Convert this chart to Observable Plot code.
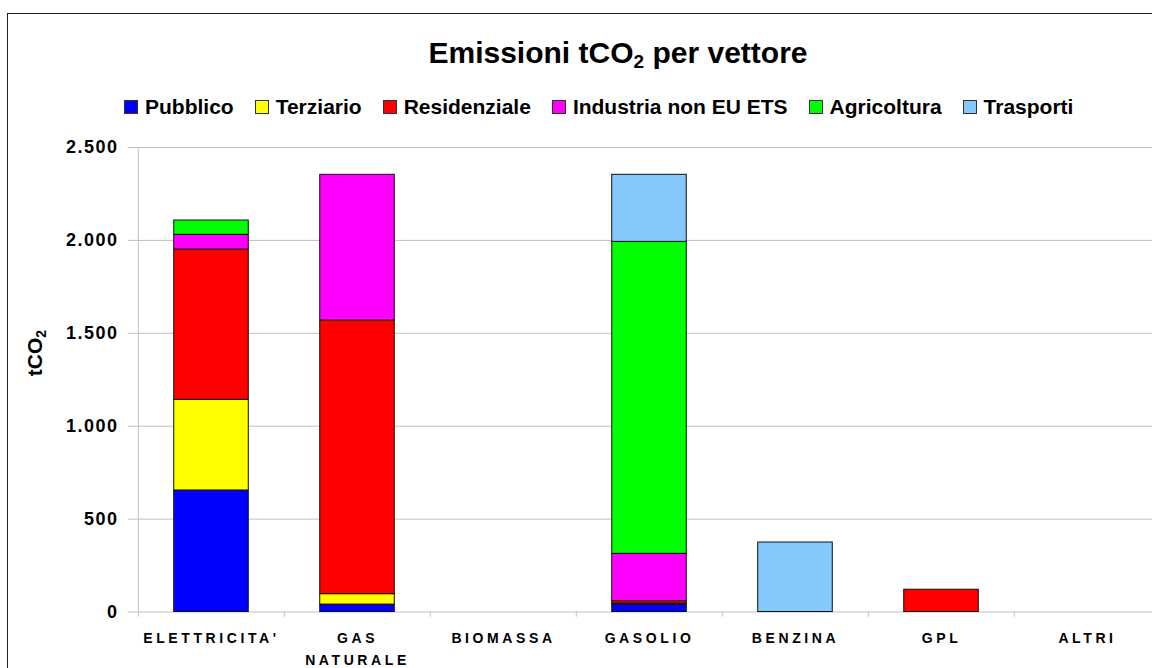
<!DOCTYPE html>
<html>
<head>
<meta charset="utf-8">
<script src="https://cdn.jsdelivr.net/npm/d3@7"></script>
<script src="https://cdn.jsdelivr.net/npm/@observablehq/plot@0.6"></script>
<style>
  html, body { margin: 0; padding: 0; background: #fff; }
  body { font-family: "Liberation Sans", Arial, sans-serif; }
  #wrap { position: relative; width: 1152px; height: 668px; overflow: hidden; }
  #frame { position: absolute; left: 7px; top: 13px; width: 1300px; height: 800px; border: 1.4px solid #222; box-sizing: border-box; }
  #title { position: absolute; left: 0; width: 1236px; top: 36px; text-align: center; font-weight: bold; font-size: 30px; color: #000; }
  #title sub { font-size: 19px; vertical-align: -5px; line-height: 0; }
  #legend { position: absolute; left: 124px; top: 95px; display: flex; align-items: center; font-weight: bold; font-size: 21px; color: #000; white-space: nowrap; }
  .item { display: flex; align-items: center; margin-right: 21px; }
  .sw { width: 12px; height: 12px; border: 1px solid #333; margin-right: 7px; }
  #ytitle { position: absolute; left: 35px; top: 353px; transform: translate(-50%, -50%) rotate(-90deg); font-weight: bold; font-size: 21px; white-space: nowrap; color: #000; }
  #ytitle sub { font-size: 14px; vertical-align: -4px; line-height: 0; }
  #chart { position: absolute; left: 0; top: 130px; width: 1170px; }
  #chart svg { max-width: none !important; }
  [aria-label="x-axis tick label"] text { letter-spacing: 3.6px; }
  [aria-label="y-axis tick label"] text { letter-spacing: 1.5px; }
</style>
</head>
<body>
<div id="wrap">
  <div id="frame"></div>
  <div id="title">Emissioni tCO<sub>2</sub> per vettore</div>
  <div id="legend"></div>
  <div id="ytitle">tCO<sub>2</sub></div>
  <div id="chart"></div>
</div>
<script>
// ---- Data ----
const categories = ["ELETTRICITA'", "GAS NATURALE", "BIOMASSA", "GASOLIO", "BENZINA", "GPL", "ALTRI"];
const tickLabels = ["ELETTRICITA'", "GAS\nNATURALE", "BIOMASSA", "GASOLIO", "BENZINA", "GPL", "ALTRI"];
const seriesNames = ["Pubblico", "Terziario", "Residenziale", "Industria non EU ETS", "Agricoltura", "Trasporti"];
const seriesColors = ["#0000ff", "#ffff00", "#ff0000", "#ff00ff", "#00ff00", "#85c9fc"];
const pubblico     = [654,   40, 0,   40,   0,   0, 0];
const terziario    = [488,   56, 0,    5,   0,   0, 0];
const residenziale = [809, 1473, 0,   13,   0, 120, 0];
const industria    = [ 79,  784, 0,  255,   0,   0, 0];
const agricoltura  = [ 77,    0, 0, 1679,   0,   0, 0];
const trasporti    = [  0,    0, 0,  361, 374,   0, 0];
const yTicks = [0, 500, 1000, 1500, 2000, 2500];

const seriesValues = [pubblico, terziario, residenziale, industria, agricoltura, trasporti];
const rows = [];
seriesNames.forEach((s, i) => {
  categories.forEach((c, j) => {
    const v = seriesValues[i][j];
    if (v > 0) rows.push({cat: c, series: s, value: v});
  });
});

// ---- Legend ----
const legend = document.getElementById("legend");
seriesNames.forEach((s, i) => {
  const it = document.createElement("div");
  it.className = "item";
  const sw = document.createElement("div");
  sw.className = "sw";
  sw.style.background = seriesColors[i];
  const tx = document.createElement("span");
  tx.textContent = s;
  it.appendChild(sw); it.appendChild(tx);
  legend.appendChild(it);
});

// ---- Chart ----
const width = 1170, height = 538;
const marginLeft = 136, marginRight = 9, marginTop = 17, marginBottom = 56.5;
const step = (width - marginLeft - marginRight) / categories.length;
const fmt = d3.formatLocale({decimal: ",", thousands: ".", grouping: [3], currency: ["", "€"]}).format(",");
const grid = "#c0c0c0";

const chart = Plot.plot({
  width, height, marginLeft, marginRight, marginTop, marginBottom,
  style: {fontFamily: '"Liberation Sans", Arial, sans-serif', background: "transparent", overflow: "visible", color: "#000", maxWidth: "none"},
  x: {type: "band", domain: categories, padding: 0},
  y: {domain: [0, 2500]},
  color: {domain: seriesNames, range: seriesColors},
  marks: [
    Plot.gridY(yTicks, {stroke: grid, strokeOpacity: 1, strokeWidth: 1}),
    Plot.ruleX([categories[0]], {dx: -step / 2, y1: 0, y2: 2500, stroke: grid, strokeWidth: 1}),
    Plot.ruleX(categories, {dx: -step / 2, y1: 0, y2: -28, stroke: grid, strokeWidth: 1}),
    Plot.axisY({ticks: yTicks, tickSize: 8, tickPadding: 10, stroke: grid, strokeOpacity: 1, fontSize: 18, fontWeight: "bold", tickFormat: fmt, label: null}),
    Plot.axisX({tickSize: 0, tickPadding: 16, fontSize: 14, fontWeight: "bold", lineHeight: 1.55, tickFormat: (d) => tickLabels[categories.indexOf(d)], label: null}),
    Plot.barY(rows, {x: "cat", y: "value", fill: "series", order: seriesNames, stroke: "#111", strokeWidth: 1, insetLeft: step * 0.244, insetRight: step * 0.244})
  ]
});
document.getElementById("chart").appendChild(chart);
</script>
</body>
</html>
